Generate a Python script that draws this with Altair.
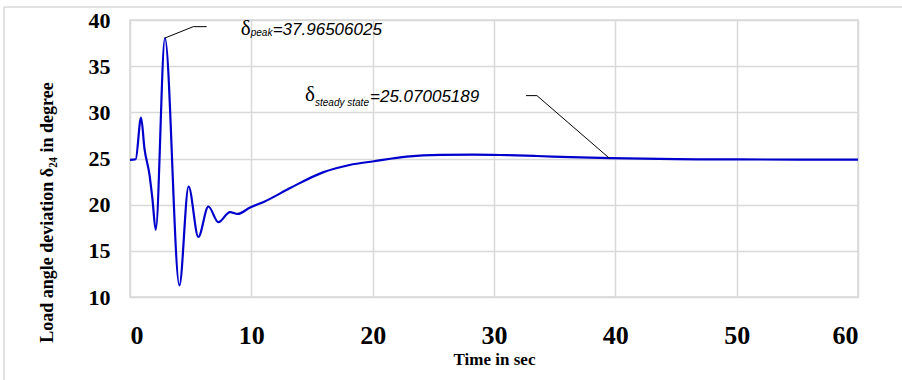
import altair as alt
import pandas as pd

# ---- curve data ----
time_s = [0, 0.47, 0.91, 1.2, 1.6, 1.85, 2.12, 2.88, 4.07, 4.83, 5.63, 6.46, 7.28,
          8.24, 8.87, 9.9, 11.1, 13.2, 15.9, 18.1, 20.1, 22.8, 25.6, 28.3, 31.1,
          33.5, 36.3, 39.6, 45, 50, 55, 60]
delta_deg = [24.85, 24.92, 29.43, 26.0, 23.3, 20.6, 17.28, 38.05, 11.26, 21.97, 16.5,
             19.8, 18.1, 19.2, 19.0, 19.7, 20.35, 21.8, 23.5, 24.3, 24.7, 25.2, 25.4,
             25.43, 25.36, 25.27, 25.15, 25.04, 24.93, 24.9, 24.88, 24.87]

x_ticks = [0, 10, 20, 30, 40, 50, 60]
y_ticks = [10, 15, 20, 25, 30, 35, 40]

# ---- annotations ----
leader_id = ["peak", "peak", "peak", "steady", "steady", "steady"]
leader_order = [0, 1, 2, 0, 1, 2]
leader_t = [2.88, 5.22, 6.32, 32.64, 33.54, 39.5]
leader_y = [38.05, 39.28, 39.28, 31.81, 31.81, 25.04]

sym_t = [9.12, 14.42]
sym_y = [38.38, 31.18]
sym_text = ["δ", "δ"]

sub_t = [9.95, 15.25]
sub_y = [38.22, 30.64]
sub_text = ["peak", "steady state"]

val_t = [11.76, 19.78]
val_y = [38.38, 31.16]
val_text = ["=37.96506025", "=25.07005189"]

curve = pd.DataFrame({"t": time_s, "d": delta_deg})
leaders = pd.DataFrame({"id": leader_id, "o": leader_order, "t": leader_t, "d": leader_y})
syms = pd.DataFrame({"t": sym_t, "d": sym_y, "s": sym_text})
subs = pd.DataFrame({"t": sub_t, "d": sub_y, "s": sub_text})
vals = pd.DataFrame({"t": val_t, "d": val_y, "s": val_text})

xs = alt.Scale(domain=[0, 60], nice=False)
ys = alt.Scale(domain=[10, 40], nice=False)

x_axis = alt.Axis(values=x_ticks, title="Time in sec", grid=True, domain=False,
                  ticks=False, tickSize=0, labelPadding=25, labelFontSize=26,
                  titleFontSize=17, titlePadding=3)
y_axis = alt.Axis(values=y_ticks, title="Load angle deviation δ₂₄ in degree",
                  grid=True, domain=False, ticks=False, tickSize=0,
                  labelPadding=20, labelFontSize=22, titleFontSize=18,
                  titleX=-78, titleY=192, titleBaseline="alphabetic")

line = alt.Chart(curve).mark_line(color="#0000cc", strokeWidth=2.2,
                                  interpolate="monotone").encode(
    x=alt.X("t:Q", scale=xs, axis=x_axis),
    y=alt.Y("d:Q", scale=ys, axis=y_axis),
)

lead = alt.Chart(leaders).mark_line(color="black", strokeWidth=1).encode(
    x=alt.X("t:Q", scale=xs), y=alt.Y("d:Q", scale=ys),
    detail="id:N", order="o:Q")

sym = alt.Chart(syms).mark_text(font="Liberation Serif", fontSize=21, align="left",
                                baseline="alphabetic", color="black").encode(
    x=alt.X("t:Q", scale=xs), y=alt.Y("d:Q", scale=ys), text="s:N")
sub = alt.Chart(subs).mark_text(font="Liberation Sans", fontSize=10, fontStyle="italic",
                                align="left", baseline="alphabetic", color="black").encode(
    x=alt.X("t:Q", scale=xs), y=alt.Y("d:Q", scale=ys), text="s:N")
val = alt.Chart(vals).mark_text(font="Liberation Sans", fontSize=17, fontStyle="italic",
                                align="left", baseline="alphabetic", color="black").encode(
    x=alt.X("t:Q", scale=xs), y=alt.Y("d:Q", scale=ys), text="s:N")

frame_left = alt.Chart(pd.DataFrame({"k": [0]})).mark_rule(
    color="#d9d9d9", strokeWidth=1.5).encode(
    x=alt.value(-126), y=alt.value(-13), y2=alt.value(400))
frame_top = alt.Chart(pd.DataFrame({"k": [0]})).mark_rule(
    color="#d9d9d9", strokeWidth=1.5).encode(
    x=alt.value(-126), x2=alt.value(800), y=alt.value(-13))

chart = alt.layer(frame_left, frame_top, line, lead, sym, sub, val).properties(
    width=728, height=277,
    autosize=alt.AutoSizeParams(type="none"),
    padding={"left": 130, "top": 20, "right": 44, "bottom": 83},
    background="white",
).configure_view(
    stroke="#d9d9d9", strokeWidth=1.5
).configure_axis(
    labelFont="Liberation Serif", labelFontWeight="bold", labelColor="black",
    titleFont="Liberation Serif", titleFontWeight="bold", titleColor="black",
    gridColor="#d9d9d9", gridWidth=1.5, gridOpacity=1,
)

chart.save("out.html", embed_options={"renderer": "svg", "actions": False})
